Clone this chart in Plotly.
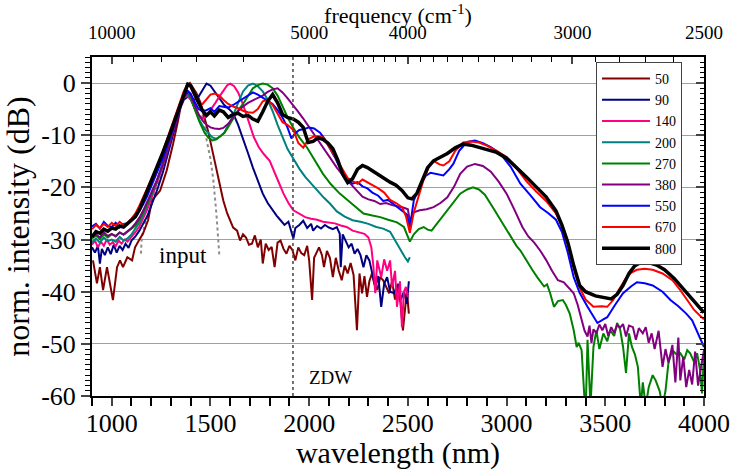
import plotly.graph_objects as go

# ---------------- data ----------------
wl_input = [1148, 1152, 1165, 1200, 1250, 1300, 1340, 1370, 1390, 1420, 1450, 1470, 1481, 1500, 1515, 1530, 1545]
db_input = [-32.7, -29.5, -27.5, -23.5, -17.5, -11.0, -5.0, -1.5, -0.3, -1.5, -4.5, -8.0, -11.0, -14.5, -18.7, -25.0, -33.0]

wl_50 = [905, 925, 940, 956, 976, 991, 1006, 1027, 1042, 1057, 1079, 1103, 1118, 1143, 1158, 1184, 1204, 1245,
         1278, 1311, 1336, 1361, 1380, 1396, 1410, 1430, 1450, 1470, 1490, 1510, 1530, 1550, 1565, 1585, 1600, 1615,
         1635, 1650, 1665, 1680, 1695, 1710, 1725, 1740, 1755, 1765, 1780, 1795, 1810, 1825, 1840, 1855, 1870, 1885,
         1900, 1915, 1930, 1945, 1960, 1975, 1990, 2000, 2015, 2025, 2035, 2050, 2065, 2075, 2090, 2105, 2120, 2135,
         2150, 2165, 2180, 2195, 2210, 2225, 2242, 2255, 2268, 2280, 2293, 2305, 2318, 2330, 2345, 2360, 2375, 2390,
         2405, 2420, 2435, 2450, 2462, 2475, 2485, 2495, 2505]
db_50 = [-34.0, -38.4, -35.3, -39.7, -35.3, -38.4, -41.6, -35.3, -34.0, -35.3, -33.4, -34.0, -31.5, -29.8, -28.9,
         -26.3, -22.5, -20.6, -16.8, -11.6, -7.2, -2.1, -0.5, 0.0, -0.8, -2.0, -3.8, -6.5, -9.5, -13.0, -16.5, -20.0,
         -22.5, -25.0, -26.3, -27.7, -28.3, -30.2, -29.0, -29.6, -31.0, -30.8, -29.2, -31.5, -30.0, -34.6, -30.8,
         -32.0, -31.4, -35.3, -30.6, -30.2, -31.8, -32.7, -31.2, -32.0, -34.0, -31.5, -32.6, -33.0, -31.2, -34.0,
         -41.6, -33.5, -32.7, -31.5, -33.0, -35.3, -32.2, -33.5, -37.2, -33.5, -36.0, -37.8, -35.0, -36.5, -34.5,
         -36.8, -47.4, -36.5, -40.3, -37.0, -41.0, -38.0, -36.5, -38.5, -39.7, -37.2, -37.8, -39.0, -40.3, -38.0,
         -41.5, -39.0, -42.0, -47.4, -44.2, -39.8, -44.2]

wl_90 = [900, 915, 930, 940, 950, 965, 980, 995, 1010, 1025, 1040, 1055, 1070, 1085, 1100, 1120, 1140, 1160, 1180,
         1200, 1230, 1260, 1290, 1320, 1345, 1365, 1385, 1400, 1420, 1440, 1460, 1480, 1500, 1520, 1545, 1570, 1595,
         1615, 1640, 1665, 1690, 1715, 1740, 1765, 1790, 1815, 1835, 1855, 1875, 1895, 1910, 1920, 1930, 1950, 1970,
         1990, 2010, 2020, 2040, 2060, 2080, 2100, 2120, 2140, 2155, 2160, 2170, 2185, 2200, 2215, 2230, 2245, 2260,
         2275, 2290, 2305, 2320, 2335, 2350, 2365, 2380, 2395, 2410, 2430, 2450, 2465, 2480, 2495, 2505]
db_90 = [-31.5, -32.5, -31.2, -34.6, -31.8, -33.0, -31.5, -32.8, -31.0, -32.5, -31.2, -32.0, -30.8, -31.6, -30.2,
         -29.4, -28.3, -27.0, -25.5, -23.5, -20.5, -17.0, -12.8, -8.2, -5.0, -3.2, -2.6, -2.8, -3.2, -2.6, -1.2, -0.1,
         -0.5, -1.6, -3.0, -4.2, -5.0, -5.8, -8.0, -10.5, -13.4, -16.2, -18.8, -21.2, -23.0, -24.4, -25.4, -26.3,
         -27.2, -26.6, -28.3, -29.8, -27.8, -27.2, -26.4, -27.8, -27.0, -28.3, -27.4, -27.9, -27.2, -27.7, -28.0,
         -27.6, -28.9, -35.3, -29.0, -30.4, -31.5, -30.8, -32.7, -31.8, -33.0, -35.3, -33.0, -34.0, -36.5, -39.1,
         -37.0, -42.9, -38.5, -37.2, -40.0, -40.3, -38.5, -41.5, -40.0, -42.3, -38.0]

wl_140 = [900, 915, 930, 945, 960, 975, 990, 1005, 1020, 1035, 1050, 1065, 1080, 1100, 1120, 1140, 1160, 1180, 1200,
          1230, 1260, 1290, 1320, 1345, 1365, 1385, 1400, 1420, 1445, 1465, 1485, 1505, 1525, 1545, 1565, 1585, 1600,
          1620, 1640, 1660, 1680, 1700, 1720, 1745, 1770, 1800, 1825, 1850, 1870, 1895, 1920, 1950, 1980, 2010, 2040,
          2070, 2100, 2130, 2160, 2190, 2220, 2250, 2280, 2300, 2315, 2325, 2335, 2345, 2355, 2365, 2380, 2395, 2410,
          2420, 2435, 2445, 2460, 2470, 2480, 2490, 2500]
db_140 = [-31.0, -30.2, -31.5, -30.4, -31.2, -30.0, -31.0, -30.5, -31.3, -30.2, -30.8, -30.0, -30.4, -29.6, -28.6,
          -27.5, -26.0, -24.2, -22.2, -19.2, -15.8, -11.8, -7.5, -4.4, -2.8, -2.5, -3.2, -4.8, -6.4, -6.8, -6.0, -5.0,
          -3.8, -2.6, -1.4, -0.4, -0.1, -0.6, -1.8, -3.6, -5.8, -8.0, -10.4, -12.3, -13.6, -14.9, -17.0, -19.4,
          -21.2, -23.0, -24.4, -25.0, -25.7, -26.0, -26.2, -26.6, -26.7, -26.9, -27.3, -27.6, -28.3, -28.6, -28.9,
          -29.6, -31.5, -35.0, -40.3, -34.0, -35.5, -37.2, -33.8, -36.0, -34.0, -39.1, -36.0, -42.9, -38.0, -46.8,
          -40.0, -39.1, -41.0]

wl_200 = [900, 920, 940, 960, 980, 1000, 1020, 1040, 1060, 1080, 1100, 1120, 1140, 1160, 1180, 1200, 1230, 1260,
          1290, 1320, 1345, 1365, 1385, 1400, 1420, 1445, 1470, 1490, 1510, 1530, 1550, 1570, 1590, 1615, 1640, 1665,
          1690, 1715, 1740, 1765, 1790, 1815, 1840, 1865, 1890, 1920, 1950, 1980, 2010, 2040, 2075, 2105, 2140, 2180,
          2220, 2260, 2300, 2340, 2375, 2410, 2440, 2465, 2485, 2500, 2510]
db_200 = [-30.5, -29.8, -30.6, -29.6, -30.3, -30.0, -30.4, -29.5, -30.2, -29.8, -29.0, -28.0, -26.8, -25.2, -23.5,
          -21.6, -18.6, -15.2, -11.2, -7.0, -4.0, -2.6, -2.2, -3.0, -5.0, -7.2, -8.8, -9.6, -10.4, -10.7, -10.2,
          -9.5, -8.0, -6.2, -3.8, -1.6, -0.5, -0.1, -0.6, -1.6, -3.2, -5.4, -8.0, -10.5, -12.6, -14.5, -16.4, -18.0,
          -19.3, -20.6, -22.0, -23.1, -24.6, -25.6, -26.3, -26.6, -27.0, -27.6, -27.9, -28.5, -30.5, -32.0, -33.4,
          -34.2, -33.4]

wl_270 = [900, 920, 940, 960, 980, 1000, 1020, 1040, 1060, 1080, 1100, 1120, 1140, 1160, 1180, 1200, 1230, 1260,
          1290, 1320, 1345, 1365, 1385, 1400, 1420, 1445, 1470, 1490, 1510, 1530, 1550, 1570, 1590, 1615, 1640, 1665,
          1690, 1715, 1740, 1765, 1790, 1815, 1840, 1865, 1890, 1920, 1950, 1990, 2030, 2070, 2110, 2155, 2200, 2240,
          2275, 2320, 2360, 2400, 2445, 2480, 2500, 2510, 2530, 2555, 2580, 2600, 2620, 2650, 2700, 2735, 2765, 2800,
          2830, 2860, 2890, 2930, 2970, 3010, 3050, 3070, 3100, 3130, 3155, 3180, 3190, 3205, 3220, 3240, 3260, 3285,
          3300, 3320, 3340, 3355, 3365, 3380, 3390, 3400, 3410, 3425, 3440, 3455, 3470, 3490, 3510, 3525, 3545, 3560,
          3575, 3590, 3605, 3620, 3635, 3650, 3665, 3680, 3690, 3705, 3720, 3740, 3755, 3775, 3790, 3805, 3820, 3840,
          3860, 3880, 3900, 3915, 3930, 3950, 3965, 3980, 3990, 4000]
db_270 = [-29.8, -29.2, -29.9, -29.0, -29.6, -29.0, -29.3, -28.6, -29.1, -28.5, -28.0, -27.3, -26.2, -24.8, -23.2,
          -21.4, -18.6, -15.4, -11.8, -7.8, -4.6, -2.6, -1.8, -2.8, -5.0, -7.5, -9.5, -10.5, -11.0, -10.8, -10.2,
          -9.6, -8.4, -6.8, -5.2, -4.0, -2.4, -1.0, -0.4, -0.1, -0.3, -1.0, -2.4, -4.6, -6.5, -8.6, -10.4, -12.4,
          -15.0, -17.4, -19.4, -21.2, -22.6, -23.8, -25.0, -25.4, -25.7, -26.2, -26.7, -27.6, -29.3, -30.4, -29.0,
          -28.0, -27.6, -28.1, -28.3, -26.8, -24.4, -22.7, -21.2, -20.4, -20.0, -20.4, -21.4, -23.8, -26.3, -28.8,
          -31.2, -32.1, -34.0, -35.8, -37.2, -38.5, -39.0, -38.6, -40.2, -42.9, -41.8, -41.6, -42.5, -44.2, -47.4,
          -50.6, -49.8, -51.2, -58.0, -64.0, -49.2, -62.0, -50.6, -47.4, -51.0, -48.0, -49.5, -47.4, -48.5, -46.0,
          -47.2, -50.6, -55.6, -48.0, -50.6, -52.0, -54.4, -62.0, -57.4, -62.0, -58.3, -56.0, -57.0, -59.0, -62.0,
          -59.0, -53.6, -51.2, -52.0, -51.8, -53.0, -51.2, -51.8, -53.5, -51.8, -55.0, -59.5, -52.0]

wl_380 = [900, 920, 940, 960, 980, 1000, 1020, 1040, 1060, 1080, 1100, 1120, 1140, 1160, 1180, 1200, 1230, 1260,
          1290, 1320, 1345, 1365, 1385, 1400, 1420, 1440, 1460, 1480, 1500, 1520, 1545, 1565, 1590, 1615, 1640, 1665,
          1690, 1715, 1740, 1765, 1790, 1815, 1840, 1865, 1890, 1915, 1940, 1970, 2000, 2035, 2070, 2105, 2140, 2175,
          2210, 2240, 2270, 2300, 2330, 2360, 2390, 2420, 2450, 2480, 2500, 2510, 2530, 2560, 2595, 2630, 2665, 2700,
          2735, 2765, 2800, 2840, 2880, 2920, 2960, 3000, 3040, 3080, 3110, 3140, 3170, 3200, 3230, 3260, 3290, 3320,
          3340, 3360, 3380, 3395, 3410, 3420, 3430, 3440, 3455, 3470, 3485, 3500, 3515, 3530, 3545, 3560, 3575, 3590,
          3605, 3620, 3640, 3655, 3670, 3690, 3705, 3720, 3735, 3750, 3770, 3790, 3805, 3820, 3840, 3855, 3870, 3880,
          3895, 3910, 3925, 3940, 3955, 3970, 3985, 4000]
db_380 = [-29.5, -29.0, -29.6, -28.6, -29.3, -28.9, -29.4, -28.7, -29.0, -28.4, -27.8, -26.9, -25.8, -24.4, -22.8,
          -21.0, -18.5, -15.5, -12.0, -8.2, -5.0, -2.8, -1.6, -2.4, -4.2, -6.0, -7.2, -8.0, -8.5, -8.7, -8.8, -8.6,
          -7.8, -6.6, -5.4, -4.5, -3.8, -3.3, -2.9, -2.4, -1.7, -1.2, -1.0, -1.8, -2.9, -4.0, -5.3, -6.8, -8.5,
          -10.5, -12.4, -14.3, -16.2, -17.9, -19.4, -20.6, -21.8, -22.3, -22.6, -23.2, -23.0, -23.4, -23.6, -23.9,
          -24.2, -26.5, -24.8, -24.4, -24.2, -23.8, -23.0, -21.9, -19.8, -17.4, -16.0, -15.5, -15.9, -17.0, -18.9,
          -21.2, -24.3, -27.6, -29.4, -30.6, -32.1, -33.9, -36.0, -37.8, -38.2, -39.4, -40.3, -42.5, -45.4, -47.5,
          -48.6, -46.5, -49.8, -47.2, -48.0, -46.3, -47.4, -46.2, -48.5, -46.8, -47.9, -46.4, -46.9, -46.2, -48.6,
          -46.5, -46.8, -49.2, -47.0, -48.0, -46.8, -49.8, -48.0, -51.0, -47.5, -54.4, -51.0, -53.6, -50.2, -57.4,
          -48.8, -57.0, -52.5, -58.3, -55.0, -57.8, -51.5, -58.0, -54.4, -51.2]

wl_550 = [900, 920, 940, 960, 980, 1000, 1020, 1040, 1060, 1080, 1100, 1120, 1140, 1160, 1180, 1200, 1230, 1260,
          1290, 1320, 1345, 1365, 1385, 1400, 1420, 1440, 1460, 1480, 1500, 1520, 1545, 1565, 1590, 1615, 1640, 1665,
          1690, 1715, 1740, 1765, 1790, 1815, 1840, 1865, 1890, 1910, 1930, 1950, 1975, 2000, 2025, 2055, 2080, 2105,
          2130, 2150, 2170, 2195, 2220, 2245, 2270, 2295, 2320, 2350, 2375, 2400, 2425, 2450, 2475, 2495, 2510, 2530,
          2560, 2590, 2615, 2650, 2680, 2710, 2730, 2760, 2800, 2840, 2880, 2920, 2970, 3020, 3070, 3120, 3170, 3210,
          3250, 3280, 3310, 3340, 3370, 3410, 3440, 3460, 3490, 3510, 3550, 3590, 3630, 3660, 3700, 3740, 3790, 3830,
          3870, 3910, 3940, 3970, 3990, 4000]
db_550 = [-27.5, -27.0, -27.9, -26.6, -27.4, -27.6, -26.8, -27.7, -27.0, -26.9, -26.2, -25.6, -24.5, -23.2, -21.6,
          -19.8, -17.2, -14.3, -11.0, -7.5, -4.5, -2.5, -1.5, -2.0, -3.6, -5.0, -5.3, -5.2, -4.8, -5.5, -4.4, -4.5,
          -4.7, -4.2, -3.6, -3.0, -2.4, -1.8, -2.2, -2.8, -3.4, -4.0, -5.2, -6.6, -8.5, -10.6, -9.6, -9.0, -8.8, -8.5,
          -8.7, -9.5, -10.8, -12.4, -14.2, -15.8, -17.3, -18.5, -19.3, -19.0, -19.8, -20.2, -21.0, -21.6, -22.6,
          -22.4, -23.1, -23.8, -24.5, -25.2, -27.7, -22.5, -19.8, -17.8, -17.2, -17.5, -17.7, -16.5, -15.5, -13.0,
          -11.3, -11.0, -11.5, -12.3, -13.6, -16.0, -19.3, -21.5, -23.8, -24.9, -26.2, -28.5, -32.5, -37.2, -40.2,
          -42.9, -44.8, -46.0, -45.3, -44.9, -42.5, -40.3, -39.0, -38.2, -38.4, -38.8, -40.0, -41.6, -42.8, -44.2,
          -45.5, -48.0, -50.0, -50.6]

wl_670 = [900, 920, 940, 960, 980, 1000, 1020, 1040, 1060, 1080, 1100, 1120, 1140, 1160, 1180, 1200, 1230, 1260,
          1290, 1320, 1345, 1365, 1385, 1400, 1420, 1440, 1460, 1480, 1500, 1520, 1545, 1565, 1590, 1615, 1640, 1665,
          1690, 1715, 1740, 1765, 1790, 1815, 1840, 1865, 1890, 1920, 1945, 1970, 1995, 2020, 2045, 2070, 2095, 2120,
          2145, 2170, 2195, 2220, 2245, 2270, 2295, 2320, 2350, 2380, 2410, 2440, 2470, 2490, 2510, 2530, 2555, 2580,
          2610, 2630, 2660, 2680, 2710, 2740, 2780, 2820, 2860, 2900, 2950, 3000, 3050, 3100, 3150, 3200, 3250, 3280,
          3310, 3340, 3370, 3400, 3440, 3480, 3510, 3540, 3570, 3600, 3630, 3660, 3700, 3740, 3790, 3840, 3880, 3920,
          3950, 3980, 4000]
db_670 = [-28.0, -27.2, -27.8, -27.0, -27.6, -26.8, -27.4, -26.6, -27.2, -26.8, -26.0, -25.0, -23.5, -21.8, -20.0,
          -18.5, -16.0, -13.0, -9.8, -6.6, -3.8, -1.6, -0.2, -0.8, -2.5, -4.0, -4.0, -3.0, -2.2, -2.0, -2.4, -3.2,
          -4.0, -4.5, -4.8, -5.3, -5.6, -5.7, -5.0, -3.5, -3.2, -4.2, -5.8, -7.5, -8.0, -9.0, -11.5, -12.4, -10.8,
          -10.3, -10.2, -10.4, -11.8, -13.4, -15.0, -16.8, -18.2, -18.8, -19.3, -18.5, -19.0, -19.5, -20.2, -21.0,
          -22.4, -23.0, -23.8, -25.5, -28.7, -24.8, -21.5, -18.5, -15.8, -14.9, -15.6, -15.8, -15.0, -13.0, -11.4,
          -11.2, -11.4, -12.0, -13.0, -14.2, -16.3, -18.8, -20.8, -22.6, -25.0, -27.5, -31.0, -35.5, -39.2, -41.5,
          -42.9, -42.8, -42.9, -41.6, -39.6, -37.7, -36.4, -35.8, -35.6, -35.8, -36.5, -37.8, -39.7, -42.0, -43.5,
          -44.6, -45.3]

wl_800 = [900, 920, 940, 960, 980, 1000, 1020, 1040, 1060, 1080, 1100, 1120, 1140, 1160, 1180, 1200, 1230, 1260,
          1290, 1320, 1345, 1365, 1385, 1400, 1420, 1440, 1460, 1480, 1500, 1520, 1545, 1565, 1590, 1615, 1640, 1665,
          1690, 1715, 1740, 1765, 1790, 1815, 1840, 1865, 1890, 1920, 1945, 1970, 1995, 2020, 2045, 2070, 2095, 2120,
          2145, 2170, 2195, 2220, 2245, 2270, 2295, 2320, 2350, 2380, 2410, 2440, 2470, 2500, 2520, 2545, 2570, 2600,
          2630, 2660, 2700, 2740, 2780, 2820, 2860, 2900, 2950, 3000, 3050, 3100, 3150, 3200, 3250, 3280, 3310, 3340,
          3370, 3400, 3450, 3500, 3530, 3560, 3590, 3620, 3650, 3680, 3720, 3760, 3800, 3850, 3900, 3950, 4000]
db_800 = [-29.5, -28.5, -28.8, -28.0, -28.4, -27.8, -28.0, -27.4, -27.6, -27.0, -26.3, -25.6, -24.3, -22.5, -20.5,
          -18.6, -16.0, -13.2, -10.2, -7.0, -4.2, -2.0, -0.2, -0.5, -2.2, -4.0, -5.3, -6.2, -5.5, -6.3, -5.2, -5.5,
          -6.6, -6.0, -5.8, -6.4, -6.2, -6.9, -7.3, -5.5, -3.5, -2.2, -3.8, -6.0, -6.6, -6.9, -7.5, -8.5, -11.4,
          -11.2, -10.5, -10.8, -11.5, -12.6, -14.8, -17.5, -19.1, -18.3, -16.5, -15.8, -16.2, -16.8, -17.6, -18.3,
          -19.0, -19.6, -20.6, -22.0, -22.2, -21.2, -18.8, -16.2, -14.9, -14.3, -13.5, -12.4, -11.7, -11.9, -12.3,
          -12.8, -13.3, -14.4, -16.1, -18.0, -19.9, -21.8, -24.5, -27.2, -30.5, -35.0, -38.8, -40.0, -40.8, -41.2,
          -41.4, -40.5, -38.8, -36.5, -35.0, -34.4, -34.4, -34.9, -35.8, -37.5, -39.7, -42.0, -44.0]

series_names = ["50", "90", "140", "200", "270", "380", "550", "670", "800"]
series_wl = [wl_50, wl_90, wl_140, wl_200, wl_270, wl_380, wl_550, wl_670, wl_800]
series_db = [db_50, db_90, db_140, db_200, db_270, db_380, db_550, db_670, db_800]
series_colors = ["#800000", "#000080", "#FF0080", "#008080", "#008000", "#800080", "#0000FF", "#FF0000", "#000000"]
series_widths = [2, 2, 2, 2, 2, 2, 2, 2, 3.5]

x_ticks = [1000, 1500, 2000, 2500, 3000, 3500, 4000]
y_ticks = [-60, -50, -40, -30, -20, -10, 0]
freq_major = [10000, 5000, 4000, 3000, 2500]
freq_minor = [9000, 8000, 7000, 6000] + list(range(4900, 4000, -100)) + list(range(3900, 3000, -100)) + list(range(2900, 2500, -100))
ZDW_NM = 1918

FONT = "Liberation Serif"

fig = go.Figure()
fig.add_trace(go.Scatter(x=wl_input, y=db_input, mode="lines", showlegend=False, hoverinfo="skip",
                         line=dict(color="#8c8c8c", width=2, dash="dot")))
for name, xs, ys, c, w in zip(series_names, series_wl, series_db, series_colors, series_widths):
    fig.add_trace(go.Scatter(x=xs, y=ys, mode="lines", name=name, line=dict(color=c, width=w)))
fig.add_trace(go.Scatter(x=[None], y=[None], xaxis="x2", yaxis="y2", showlegend=False, hoverinfo="skip"))

fig.update_layout(
    width=733, height=470,
    margin=dict(l=92, r=29, t=57, b=74),
    paper_bgcolor="white", plot_bgcolor="white",
    font=dict(family=FONT, color="black"),
    xaxis=dict(range=[900, 4000], tickvals=x_ticks, ticks="outside", ticklen=8, tickwidth=1.5,
               ticklabelstandoff=-5,
               minor=dict(dtick=100, ticks="outside", ticklen=8, tickwidth=1.5, tickcolor="black"),
               showline=True, linecolor="black", linewidth=2, showgrid=False, zeroline=False,
               tickfont=dict(size=26, family=FONT), automargin=False,
               title=dict(text="wavelength (nm)", font=dict(size=30, family=FONT), standoff=0)),
    xaxis2=dict(range=[900, 4000], overlaying="x", side="top", anchor="y",
                tickvals=[1e7 / f for f in freq_major], ticktext=[str(f) for f in freq_major],
                ticks="inside", ticklen=7, tickwidth=1.5, ticklabelstandoff=8,
                minor=dict(tickvals=[1e7 / f for f in freq_minor], ticks="inside", ticklen=5, tickwidth=1.2,
                           tickcolor="black"),
                showline=True, linecolor="black", linewidth=2, showgrid=False, zeroline=False,
                tickfont=dict(size=19, family=FONT), automargin=False,
                title=dict(text="frequency (cm<sup>-1</sup>)", font=dict(size=22, family=FONT), standoff=0)),
    yaxis=dict(range=[-60, 5], tickvals=y_ticks, ticktext=[str(v) for v in y_ticks],
               ticks="outside", ticklen=9, tickwidth=1.5,
               minor=dict(dtick=1, ticks="outside", ticklen=5, tickwidth=1, tickcolor="black", showgrid=False),
               showline=True, linecolor="black", linewidth=2, showgrid=True, gridcolor="#a0a0a0", gridwidth=1.2,
               zeroline=False, tickfont=dict(size=26, family=FONT), automargin=False,
               title=dict(text="norm. intensity (dB)", font=dict(size=32, family=FONT), standoff=4)),
    yaxis2=dict(range=[-60, 5], overlaying="y", side="right", anchor="x", tickvals=y_ticks,
                ticks="inside", ticklen=8, tickwidth=1.5, showticklabels=False,
                minor=dict(dtick=1, ticks="inside", ticklen=4, tickwidth=1, tickcolor="black", showgrid=False),
                showline=True, linecolor="black", linewidth=2, showgrid=False, zeroline=False),
    legend=dict(x=(596 - 92) / 612, y=(396 - 62) / 339, xanchor="left", yanchor="top",
                bgcolor="white", bordercolor="#444", borderwidth=1, itemwidth=48,
                font=dict(size=14, family=FONT), tracegroupgap=0),
    shapes=[dict(type="line", xref="x", yref="paper", x0=ZDW_NM, x1=ZDW_NM, y0=0, y1=1, layer="above",
                 line=dict(color="#444", width=1.5, dash="dot"))],
    annotations=[
        dict(x=1360, y=-33, xref="x", yref="y", text="input", showarrow=False,
             font=dict(size=23, family=FONT, color="black")),
        dict(x=2110, y=-56.5, xref="x", yref="y", text="ZDW", showarrow=False,
             font=dict(size=19, family=FONT, color="black")),
    ],
)

fig.write_html("out.html")
